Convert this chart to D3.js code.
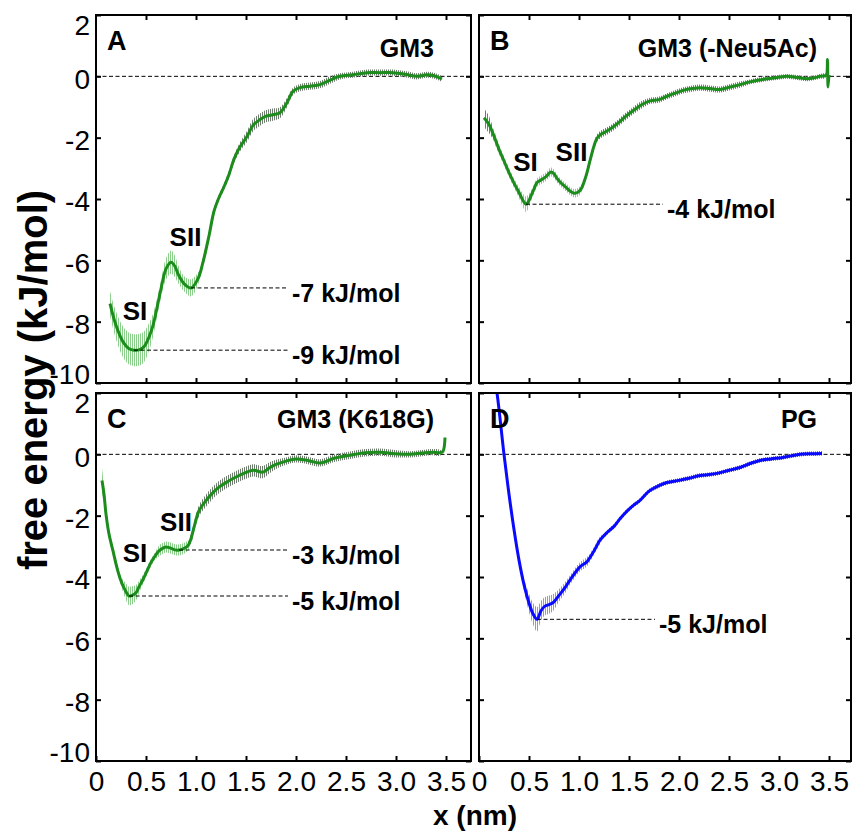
<!DOCTYPE html>
<html>
<head>
<meta charset="utf-8">
<script src="https://cdn.jsdelivr.net/npm/d3@7"></script>
<style>
  body { margin: 0; background: #fff; }
  svg { display: block; font-family: "Liberation Sans", Arial, sans-serif; }
</style>
</head>
<body>
<div id="chart"></div>
<script>
// ---- data ----
var xTicks = [0, 0.5, 1.0, 1.5, 2.0, 2.5, 3.0, 3.5];
var yTicks = [-10, -8, -6, -4, -2, 0, 2];

// A: GM3
var xA = [0.14,0.20,0.27,0.33,0.38,0.43,0.48,0.53,0.57,0.61,0.65,0.70,0.75,0.79,0.82,0.88,0.95,1.02,1.07,1.13,1.18,1.23,1.28,1.33,1.38,1.44,1.51,1.57,1.64,1.70,1.77,1.84,1.91,1.97,2.04,2.14,2.24,2.34,2.44,2.57,2.71,2.84,2.97,3.09,3.21,3.31,3.38,3.46];
var yA = [-7.41,-8.12,-8.66,-8.88,-8.93,-8.92,-8.82,-8.50,-8.12,-7.55,-6.93,-6.28,-6.06,-6.20,-6.44,-6.76,-6.90,-6.60,-6.06,-5.20,-4.40,-3.95,-3.60,-3.20,-2.70,-2.30,-1.96,-1.60,-1.41,-1.30,-1.25,-1.19,-0.86,-0.49,-0.37,-0.32,-0.27,-0.12,0.00,0.05,0.12,0.12,0.12,0.07,0.00,0.05,0.02,-0.08];
var egA = [0.40,0.45,0.50,0.52,0.52,0.52,0.50,0.45,0.38,0.30,0.28,0.35,0.38,0.35,0.30,0.25,0.28,0.20,0,0,0,0,0,0,0,0,0,0,0,0,0,0,0,0,0,0,0,0,0,0,0,0,0,0,0,0,0,0];
var ekA = [0,0,0,0,0,0,0,0,0,0,0,0,0,0,0,0,0,0,0.15,0.12,0.10,0.10,0.10,0.12,0.12,0.15,0.18,0.20,0.20,0.20,0.20,0.18,0.15,0.12,0.12,0.12,0.12,0.12,0.10,0.10,0.10,0.10,0.10,0.10,0.10,0.10,0.10,0.10];
var wellsA = [[0.38, -8.93, "-9 kJ/mol"], [0.95, -6.90, "-7 kJ/mol"]];
var sitesA = [["SI", 0.39, -7.96], ["SII", 0.895, -5.53]];

// B: GM3 (-Neu5Ac)
var xB = [0.05,0.10,0.15,0.20,0.25,0.30,0.35,0.40,0.44,0.47,0.50,0.52,0.55,0.58,0.62,0.67,0.72,0.75,0.78,0.82,0.87,0.91,0.95,0.99,1.02,1.05,1.08,1.11,1.15,1.18,1.22,1.27,1.33,1.40,1.47,1.55,1.63,1.71,1.80,1.88,1.97,2.05,2.13,2.21,2.31,2.41,2.51,2.61,2.71,2.80,2.88,2.98,3.08,3.18,3.28,3.35,3.41,3.46,3.475,3.485,3.49,3.50];
var yB = [-1.35,-1.57,-1.95,-2.38,-2.76,-3.14,-3.48,-3.79,-4.05,-4.17,-4.05,-3.90,-3.68,-3.46,-3.38,-3.27,-3.12,-3.18,-3.33,-3.48,-3.62,-3.74,-3.81,-3.78,-3.68,-3.45,-3.14,-2.75,-2.27,-2.02,-1.89,-1.80,-1.68,-1.50,-1.30,-1.10,-0.92,-0.80,-0.76,-0.65,-0.54,-0.45,-0.40,-0.37,-0.40,-0.43,-0.35,-0.27,-0.18,-0.12,-0.08,-0.04,0.00,-0.04,-0.08,-0.05,0.00,0.02,0.05,0.55,-0.35,0.05];
var egB = [0,0,0.18,0.16,0.15,0.15,0.15,0.18,0.22,0.25,0.22,0.18,0.15,0.14,0.14,0.14,0.15,0.14,0.13,0.13,0.13,0.13,0.14,0.14,0.13,0.12,0,0,0,0,0,0,0,0,0,0,0,0,0,0,0,0,0,0,0,0,0,0,0,0,0,0,0,0,0,0,0,0,0,0,0,0];
var ekB = [0.30,0.28,0.15,0,0,0,0,0,0,0,0,0,0,0,0,0,0,0,0,0,0,0,0,0,0,0,0.12,0.12,0.12,0.12,0.12,0.12,0.12,0.12,0.12,0.12,0.12,0.10,0.10,0.10,0.10,0.10,0.10,0.10,0.10,0.10,0.10,0.10,0.08,0.08,0.08,0.08,0.08,0.08,0.08,0.08,0.08,0.08,0,0,0,0];
var wellsB = [[0.47, -4.17, "-4 kJ/mol"]];
var sitesB = [["SI", 0.465, -3.08], ["SII", 0.925, -2.76]];

// C: GM3 (K618G)
var xC = [0.06,0.08,0.10,0.13,0.17,0.21,0.25,0.29,0.33,0.36,0.40,0.43,0.47,0.51,0.55,0.59,0.63,0.67,0.70,0.74,0.77,0.80,0.83,0.87,0.92,0.95,0.98,1.03,1.10,1.16,1.23,1.31,1.40,1.48,1.57,1.67,1.73,1.80,1.90,2.00,2.12,2.24,2.39,2.54,2.69,2.84,2.99,3.14,3.26,3.37,3.44,3.47,3.49];
var yC = [-0.85,-1.30,-1.95,-2.60,-3.15,-3.70,-4.13,-4.42,-4.62,-4.60,-4.51,-4.32,-4.08,-3.80,-3.53,-3.32,-3.15,-3.06,-3.02,-3.05,-3.09,-3.12,-3.12,-3.08,-2.98,-2.75,-2.38,-1.84,-1.51,-1.28,-1.07,-0.90,-0.74,-0.62,-0.52,-0.58,-0.45,-0.33,-0.22,-0.15,-0.20,-0.28,-0.12,-0.03,0.05,0.07,0.02,0.00,0.04,0.07,0.05,0.10,0.55];
var egC = [0.40,0.30,0.20,0.15,0.15,0.15,0.15,0.25,0.30,0.30,0.25,0.20,0.15,0.13,0.12,0.12,0.18,0.18,0.18,0.18,0.18,0.18,0.18,0.18,0.15,0,0,0,0,0,0,0,0,0,0,0,0,0,0,0,0,0,0,0,0,0,0,0,0,0,0,0,0];
var ekC = [0,0,0,0,0,0,0,0,0,0,0,0,0,0,0,0,0,0,0,0,0,0,0,0,0,0.15,0.15,0.18,0.20,0.20,0.20,0.20,0.20,0.20,0.20,0.20,0.18,0.15,0.12,0.12,0.12,0.12,0.12,0.12,0.12,0.12,0.12,0.10,0.10,0.10,0.10,0,0];
var wellsC = [[0.33, -4.62, "-5 kJ/mol"], [0.83, -3.12, "-3 kJ/mol"]];
var sitesC = [["SI", 0.39, -3.50], ["SII", 0.80, -2.51]];

// D: PG
var xD = [0.12,0.18,0.25,0.30,0.35,0.40,0.45,0.50,0.54,0.58,0.62,0.66,0.70,0.74,0.80,0.86,0.92,1.01,1.08,1.15,1.21,1.28,1.35,1.41,1.48,1.55,1.61,1.70,1.80,1.88,2.00,2.10,2.21,2.30,2.38,2.50,2.61,2.71,2.81,2.92,3.04,3.12,3.21,3.32,3.43];
var yD = [3.20,2.00,0.00,-1.30,-2.45,-3.45,-4.25,-4.85,-5.20,-5.38,-5.10,-4.95,-4.90,-4.84,-4.60,-4.35,-4.05,-3.67,-3.50,-3.15,-2.80,-2.55,-2.35,-2.10,-1.85,-1.65,-1.50,-1.20,-1.02,-0.92,-0.85,-0.78,-0.69,-0.66,-0.62,-0.52,-0.43,-0.30,-0.20,-0.15,-0.10,-0.05,0.00,0.02,0.03];
var egD = [0,0,0,0,0,0.10,0.20,0.30,0.35,0.40,0.32,0.30,0.30,0.28,0.20,0.18,0.15,0.15,0.15,0.12,0.12,0,0,0,0,0,0,0,0,0,0,0,0,0,0,0,0,0,0,0,0,0,0,0,0];
var ekD = [0.06,0.06,0.06,0.06,0.06,0.06,0.06,0.06,0.06,0.06,0.06,0.06,0.06,0.06,0.06,0.06,0.06,0.06,0.06,0.06,0.06,0.07,0.07,0.07,0.07,0.07,0.07,0.07,0.07,0.07,0.07,0.07,0.07,0.07,0.07,0.07,0.07,0.07,0.07,0.07,0.07,0.07,0.07,0.07,0.07];
var wellsD = [[0.58, -5.38, "-5 kJ/mol"]];
var sitesD = [];

// ---- layout ----
var W = 852, H = 832;
var svg = d3.select("#chart").append("svg").attr("width", W).attr("height", H);
var defs = svg.append("defs");

function hatch(id, color) {
  var p = defs.append("pattern").attr("id", id)
    .attr("patternUnits", "userSpaceOnUse").attr("width", 2).attr("height", 4);
  p.append("rect").attr("x", 0).attr("y", 0).attr("width", 1).attr("height", 4).attr("fill", color);
}
hatch("hgLight", "#8ccf8c");
hatch("hgDark", "#6f7d6f");
hatch("hbLight", "#8f8fff");
hatch("hbDark", "#3a3aff");

var panels = [
  {id: "A", title: "GM3", titleY: 0.63, x: xA, y: yA, eg: egA, ek: ekA, wells: wellsA, wellEnd: 1.92, sites: sitesA,
   left: 96, top: 15, xmax: 3.75, line: "#1c8c1c", light: "url(#hgLight)", dark: "url(#hgDark)", yLab: true, xLab: false},
  {id: "B", title: "GM3 (-Neu5Ac)", titleY: 0.63, x: xB, y: yB, eg: egB, ek: ekB, wells: wellsB, wellEnd: 1.84, sites: sitesB,
   left: 479, top: 15, xmax: 3.72, line: "#1c8c1c", light: "url(#hgLight)", dark: "url(#hgDark)", yLab: false, xLab: false},
  {id: "C", title: "GM3 (K618G)", titleY: 0.86, x: xC, y: yC, eg: egC, ek: ekC, wells: wellsC, wellEnd: 1.92, sites: sitesC,
   left: 96, top: 393, xmax: 3.75, line: "#1c8c1c", light: "url(#hgLight)", dark: "url(#hgDark)", yLab: true, xLab: true},
  {id: "D", title: "PG", titleY: 0.86, x: xD, y: yD, eg: egD, ek: ekD, wells: wellsD, wellEnd: 1.76, sites: sitesD,
   left: 479, top: 393, xmax: 3.72, line: "#0a0aff", light: "url(#hbLight)", dark: "url(#hbDark)", yLab: false, xLab: true}
];

var panelH = 368;
var fmtX = function(d) { return d === 0 ? "0" : d3.format(".1f")(d); };
var fmtY = function(d) { return String(d); };   // plain hyphen, as in the figure

panels.forEach(function(p, k) {
  var w = Math.round(p.xmax * 100);
  var sx = d3.scaleLinear().domain([0, p.xmax]).range([0, w]);
  var sy = d3.scaleLinear().domain([-10, 2]).range([panelH, 0]);
  var g = svg.append("g").attr("transform", "translate(" + p.left + "," + p.top + ")");

  defs.append("clipPath").attr("id", "clip" + k)
    .append("rect").attr("width", w).attr("height", panelH);
  var plot = g.append("g").attr("clip-path", "url(#clip" + k + ")");

  // zero line
  plot.append("line").attr("x1", 0).attr("x2", w).attr("y1", sy(0)).attr("y2", sy(0))
    .attr("stroke", "#000").attr("stroke-width", 1).attr("stroke-dasharray", "4,2.5");

  // error bands (vertical hatching)
  var idx = d3.range(p.x.length);
  function band(err, fill) {
    var on = function(i) { return err[i] > 0 || err[i - 1] > 0 || err[i + 1] > 0; };
    var area = d3.area().defined(on)
      .x(function(i) { return sx(p.x[i]); })
      .y0(function(i) { return sy(p.y[i] - err[i]); })
      .y1(function(i) { return sy(p.y[i] + err[i]); })
      .curve(d3.curveCatmullRom.alpha(0.5));
    plot.append("path").attr("d", area(idx)).attr("fill", fill);
  }
  band(p.ek, p.dark);
  band(p.eg, p.light);

  // curve
  var line = d3.line()
    .x(function(i) { return sx(p.x[i]); })
    .y(function(i) { return sy(p.y[i]); })
    .curve(d3.curveCatmullRom.alpha(0.5));
  plot.append("path").attr("d", line(idx)).attr("fill", "none")
    .attr("stroke", p.line).attr("stroke-width", 3).attr("stroke-linejoin", "round");

  // well depth markers
  p.wells.forEach(function(wl) {
    g.append("line").attr("x1", sx(wl[0])).attr("x2", sx(p.wellEnd))
      .attr("y1", sy(wl[1])).attr("y2", sy(wl[1]))
      .attr("stroke", "#000").attr("stroke-width", 1).attr("stroke-dasharray", "4,2.5");
    g.append("text").attr("x", sx(p.wellEnd) + 4).attr("y", sy(wl[1]) + 14)
      .attr("font-size", 25).attr("font-weight", "bold").text(wl[2]);
  });

  p.sites.forEach(function(s) {
    g.append("text").attr("x", sx(s[1])).attr("y", sy(s[2]))
      .attr("text-anchor", "middle").attr("font-size", 26).attr("font-weight", "bold").text(s[0]);
  });

  // panel letter and title
  g.append("text").attr("x", 11).attr("y", sy(0.87))
    .attr("font-size", 27).attr("font-weight", "bold").text(p.id);
  g.append("text").attr("x", 338).attr("y", sy(p.titleY)).attr("text-anchor", "end")
    .attr("font-size", 25).attr("font-weight", "bold").text(p.title);

  // axes, ticks inward on all sides
  var xVals = xTicks.filter(function(d) { return d > 0; });
  var axB = d3.axisBottom(sx).tickValues(p.xLab ? xTicks : xVals).tickSizeInner(-5).tickSizeOuter(0).tickPadding(10)
    .tickFormat(p.xLab ? fmtX : "");
  var axT = d3.axisTop(sx).tickValues(xVals).tickSizeInner(-5).tickSizeOuter(0).tickFormat("");
  var axL = d3.axisLeft(sy).tickValues(yTicks).tickSizeInner(-5).tickSizeOuter(0).tickPadding(6)
    .tickFormat(p.yLab ? fmtY : "");
  var axR = d3.axisRight(sy).tickValues(yTicks).tickSizeInner(-5).tickSizeOuter(0).tickFormat("");

  [[axB, "translate(0," + panelH + ")", "x"], [axT, null, "t"], [axL, null, "y"], [axR, "translate(" + w + ",0)", "r"]]
    .forEach(function(a) {
      var ga = g.append("g").call(a[0]);
      if (a[1]) ga.attr("transform", a[1]);
      ga.select(".domain").remove();
      ga.selectAll("line").attr("stroke", "#000").attr("stroke-width", 2);
      ga.selectAll("text").attr("font-size", 28).attr("fill", "#000")
        .attr("font-family", "\"Liberation Sans\", Arial, sans-serif");
      if (a[2] === "y") {
        // keep the end labels of the y axis inside the panel
        ga.selectAll("text")
          .attr("dy", function(d) { return d === 2 ? "0.7em" : d === -10 ? "0em" : "0.42em"; });
      }
    });

  // frame
  g.append("rect").attr("width", w).attr("height", panelH)
    .attr("fill", "none").attr("stroke", "#000").attr("stroke-width", 2);
});

// axis titles
svg.append("text").attr("transform", "translate(47,380) rotate(-90)")
  .attr("text-anchor", "middle").attr("font-size", 40).attr("font-weight", "bold")
  .text("free energy (kJ/mol)");
svg.append("text").attr("x", 475).attr("y", 825)
  .attr("text-anchor", "middle").attr("font-size", 28).attr("font-weight", "bold")
  .text("x (nm)");
</script>
</body>
</html>
